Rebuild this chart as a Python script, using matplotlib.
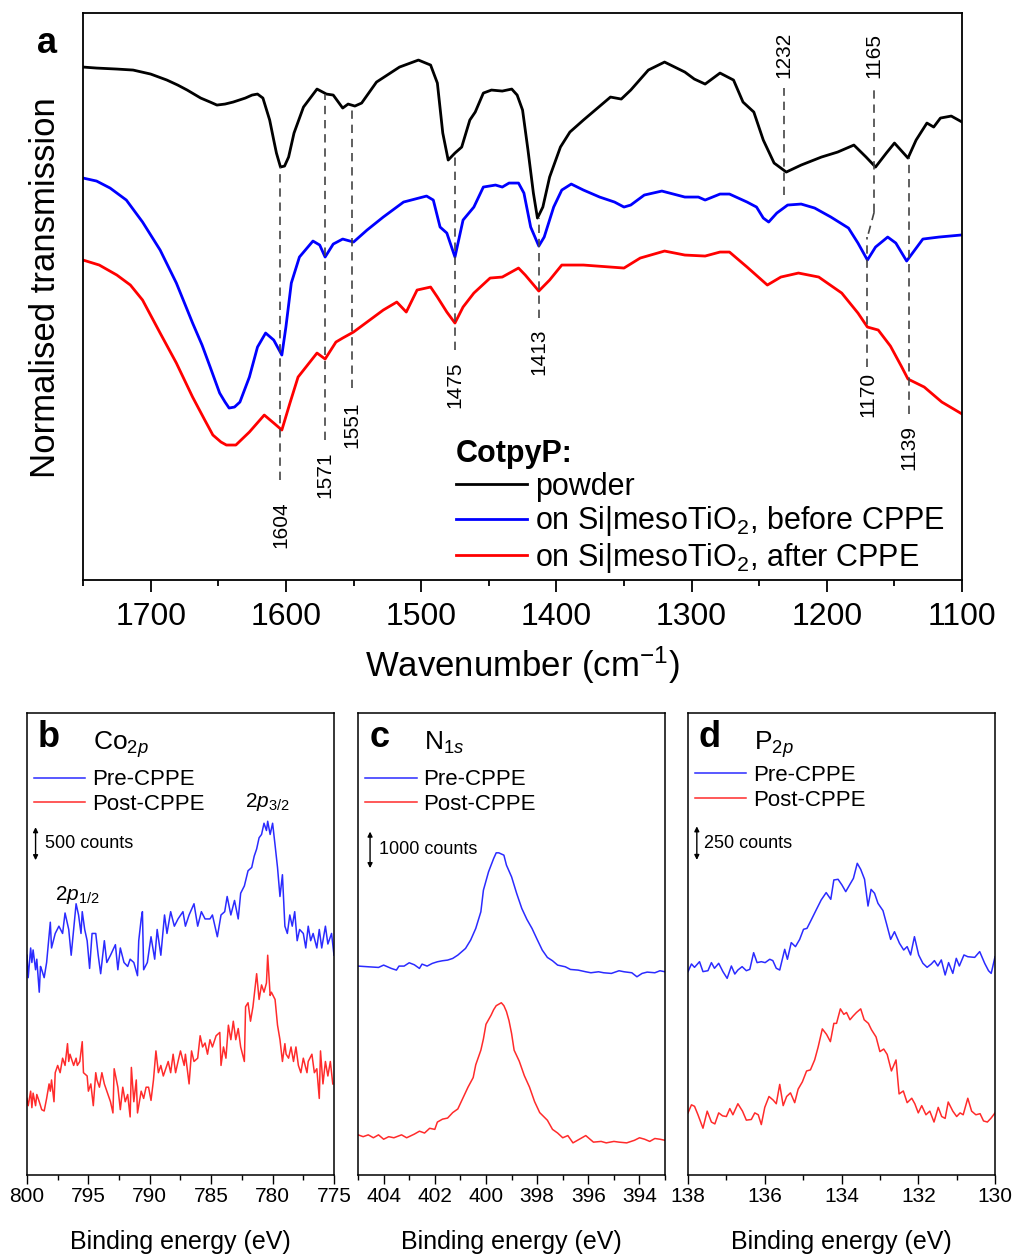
import matplotlib
matplotlib.use("Agg")
import matplotlib.pyplot as plt
from matplotlib.ticker import MultipleLocator

plt.rcParams['font.family'] = ['Liberation Sans', 'DejaVu Sans']
plt.rcParams['mathtext.fontset'] = 'custom'
plt.rcParams['mathtext.rm'] = 'Liberation Sans'
plt.rcParams['mathtext.it'] = 'Liberation Sans:italic'
plt.rcParams['mathtext.bf'] = 'Liberation Sans:bold'

# ---------------- (a) ATR-IR, normalised transmission (a.u.) ----------------
wn_powder = [1750, 1740, 1725, 1713, 1700, 1688, 1680, 1673, 1663, 1656, 1651, 1645, 1639, 1630,
             1625, 1621, 1617, 1612, 1609, 1607, 1604, 1601, 1598, 1594,
             1587, 1577, 1570, 1565, 1558, 1554, 1549, 1544, 1533, 1516, 1502, 1493, 1488, 1484,
             1480, 1475, 1470, 1464, 1460, 1454, 1448, 1440, 1433, 1429, 1425, 1421, 1417, 1414,
             1410, 1405, 1397, 1390, 1380, 1360, 1352, 1345, 1332, 1320, 1305, 1298, 1290, 1279,
             1269, 1262, 1254, 1247, 1239, 1230, 1219, 1204, 1192, 1180, 1171, 1164, 1156, 1150,
             1140, 1134, 1126, 1121, 1116, 1108, 1100]
t_powder = [5.13, 5.12, 5.11, 5.10, 5.06, 5.00, 4.95, 4.90, 4.82, 4.78, 4.75, 4.76, 4.78, 4.82,
            4.85, 4.86, 4.82, 4.60, 4.40, 4.27, 4.13, 4.14, 4.23, 4.47,
            4.73, 4.91, 4.86, 4.85, 4.72, 4.76, 4.74, 4.77, 4.98, 5.13, 5.20, 5.15, 4.97, 4.47,
            4.20, 4.27, 4.33, 4.60, 4.68, 4.87, 4.90, 4.89, 4.91, 4.85, 4.70, 4.30, 3.87, 3.62,
            3.73, 4.03, 4.33, 4.48, 4.60, 4.83, 4.81, 4.90, 5.10, 5.18, 5.08, 5.01, 4.96, 5.07,
            5.00, 4.78, 4.68, 4.40, 4.17, 4.08, 4.15, 4.23, 4.28, 4.35, 4.23, 4.13, 4.27, 4.37,
            4.22, 4.40, 4.57, 4.53, 4.62, 4.64, 4.58]

wn_before = [1750, 1740, 1730, 1718, 1706, 1693, 1681, 1669, 1662, 1656, 1649, 1645, 1642, 1638,
             1634, 1627, 1621,
             1615, 1609, 1603, 1600, 1596, 1590, 1580, 1575, 1571, 1565, 1558, 1550, 1540, 1528,
             1513, 1496, 1491, 1486, 1481, 1475, 1469, 1461, 1454, 1445, 1440, 1435, 1428, 1424,
             1419, 1413, 1409, 1402, 1396, 1389, 1380, 1368, 1357, 1350, 1345, 1335, 1322, 1305,
             1295, 1290, 1279, 1272, 1259, 1252, 1247, 1243, 1237, 1229, 1219, 1209, 1197, 1184,
             1177, 1170, 1164, 1155, 1149, 1141, 1129, 1117, 1101]
t_before = [4.02, 3.99, 3.92, 3.80, 3.58, 3.30, 2.97, 2.57, 2.35, 2.13, 1.87, 1.78, 1.72, 1.73,
            1.78, 2.03, 2.33,
            2.47, 2.40, 2.25, 2.53, 2.97, 3.23, 3.39, 3.35, 3.23, 3.36, 3.41, 3.38, 3.50, 3.63,
            3.78, 3.84, 3.80, 3.53, 3.47, 3.23, 3.60, 3.73, 3.93, 3.95, 3.93, 3.97, 3.97, 3.87,
            3.53, 3.34, 3.43, 3.73, 3.90, 3.96, 3.90, 3.83, 3.78, 3.73, 3.75, 3.85, 3.89, 3.83,
            3.83, 3.80, 3.86, 3.86, 3.78, 3.73, 3.62, 3.58, 3.67, 3.75, 3.76, 3.72, 3.63, 3.52,
            3.37, 3.20, 3.33, 3.43, 3.37, 3.19, 3.41, 3.43, 3.45]

wn_after = [1750, 1738, 1725, 1715, 1706, 1693, 1681, 1669, 1660, 1654, 1648, 1644, 1637, 1627,
            1616, 1609,
            1603, 1597, 1591, 1577, 1571, 1563, 1558, 1550, 1540, 1528, 1518, 1511, 1503, 1493,
            1488, 1481, 1475, 1469, 1461, 1449, 1440, 1428, 1423, 1413, 1405, 1396, 1380, 1350,
            1338, 1320, 1305, 1290, 1279, 1272, 1259, 1244, 1234, 1221, 1206, 1189, 1177, 1170,
            1162, 1153, 1145, 1140, 1128, 1115, 1100]
t_after = [3.20, 3.15, 3.05, 2.95, 2.80, 2.47, 2.17, 1.83, 1.60, 1.45, 1.38, 1.35, 1.35, 1.48,
           1.65, 1.57,
           1.50, 1.77, 2.03, 2.27, 2.21, 2.38, 2.42, 2.48, 2.58, 2.70, 2.78, 2.68, 2.90, 2.93,
           2.83, 2.68, 2.57, 2.73, 2.87, 3.02, 3.03, 3.12, 3.05, 2.89, 3.00, 3.15, 3.15, 3.12,
           3.22, 3.29, 3.25, 3.24, 3.28, 3.28, 3.13, 2.95, 3.03, 3.07, 3.03, 2.87, 2.67, 2.53,
           2.50, 2.34, 2.14, 2.01, 1.93, 1.78, 1.66]

# peak guide lines: position, top, bottom, label height
peak_wn = [1604, 1571, 1551, 1475, 1413, 1232, 1165, 1170, 1139]
peak_top = [4.13, 4.86, 4.74, 4.27, 3.62, 4.92, 4.92, 3.43, 4.22]
peak_bot = [1.00, 1.40, 1.92, 2.30, 2.62, 3.85, 3.68, 2.13, 1.66]
peak_lab = [0.55, 1.05, 1.55, 1.95, 2.28, 5.25, 5.25, 1.86, 1.33]

# ---------------- (b)-(d) XPS ----------------
co_be_pre = [800.0, 799.9, 799.7, 799.6, 799.5, 799.3, 799.2, 799.0, 798.9, 798.8, 798.6, 798.4,
             798.1, 798.0, 797.7, 797.4, 797.1, 796.9, 796.6, 796.4, 796.2, 796.0, 795.8, 795.6,
             795.5, 795.3, 795.1, 794.9, 794.7, 794.4, 794.2, 794.0, 793.7, 793.5, 793.2, 792.8,
             792.6, 792.4, 792.1, 791.8, 791.6, 791.3, 791.0, 790.9, 790.7, 790.6, 790.5, 790.2,
             789.9, 789.6, 789.4, 789.1, 788.8, 788.6, 788.3, 788.0, 787.7, 787.3, 787.1, 786.8,
             786.4, 786.1, 785.8, 785.5, 785.1, 784.9, 784.5, 784.2, 783.9, 783.7, 783.4, 783.1,
             782.8, 782.6, 782.3, 782.0, 781.7, 781.5, 781.3, 781.1, 780.9, 780.7, 780.5, 780.4,
             780.2, 780.0, 779.8, 779.6, 779.4, 779.2, 779.0, 778.8, 778.6, 778.4, 778.2, 778.0,
             777.8, 777.5, 777.3, 777.1, 776.9, 776.7, 776.4, 776.2, 776.0, 775.7, 775.5, 775.2,
             775.0]
co_cts_pre = [3330, 2990, 3440, 3220, 3410, 3110, 3270, 2770, 3160, 3110, 2990, 3220,
              3830, 3440, 3660, 3770, 3660, 3970, 3720, 3330, 3720, 4110, 3940, 3660,
              3990, 3720, 3550, 3130, 3660, 3660, 3330, 3050, 3550, 3220, 3330, 3490,
              3110, 3440, 3220, 3160, 3270, 3220, 3020, 3550, 3880, 3990, 3110, 3220,
              3610, 3270, 3720, 3330, 3940, 3660, 3990, 3770, 3880, 3990, 3770, 3940,
              4110, 3770, 3990, 3880, 3880, 3940, 3610, 3940, 3990, 4220, 3940, 4160,
              3880, 4270, 4380, 4610, 4660, 4830, 4940, 5110, 5160, 5330, 5220, 5360,
              5160, 5330, 5000, 4660, 4220, 4550, 3770, 3660, 3940, 3770, 3990, 3550,
              3720, 3660, 3440, 3770, 3550, 3660, 3440, 3720, 3440, 3770, 3500, 3660,
              3330]
co_be_post = [800.0, 799.9, 799.7, 799.6, 799.5, 799.3, 799.2, 799.0, 798.8, 798.6, 798.4, 798.2,
              798.1, 798.0, 797.8, 797.7, 797.5, 797.3, 797.1, 796.9, 796.7, 796.6, 796.5, 796.2,
              796.0, 795.9, 795.7, 795.5, 795.4, 795.1, 795.0, 794.8, 794.6, 794.4, 794.3, 794.1,
              793.9, 793.7, 793.5, 793.2, 793.0, 792.9, 792.6, 792.4, 792.2, 792.0, 791.8, 791.6,
              791.5, 791.3, 791.1, 791.0, 790.7, 790.5, 790.3, 790.1, 789.9, 789.7, 789.5, 789.3,
              789.1, 788.9, 788.7, 788.5, 788.3, 788.1, 787.9, 787.7, 787.5, 787.2, 787.1, 786.8,
              786.6, 786.4, 786.1, 785.9, 785.7, 785.5, 785.3, 785.1, 784.9, 784.6, 784.3, 784.2,
              784.0, 783.8, 783.6, 783.4, 783.2, 783.0, 782.8, 782.6, 782.3, 782.2, 782.0, 781.8,
              781.6, 781.3, 781.1, 780.9, 780.7, 780.5, 780.4, 780.2, 780.1, 779.8, 779.6, 779.4,
              779.2, 779.0, 778.9, 778.7, 778.5, 778.3, 778.1, 777.9, 777.7, 777.5, 777.2, 777.1,
              776.8, 776.6, 776.4, 776.2, 776.1, 775.9, 775.7, 775.5, 775.3, 775.1]
co_cts_post = [1160, 1050, 1270, 1020, 1240, 1050, 1220, 1110, 990, 970, 1160, 1380,
               1270, 1440, 1110, 1550, 1660, 1550, 1770, 1660, 1990, 1720, 1830, 1660,
               1770, 1660, 1720, 2020, 1550, 1500, 1270, 1380, 1050, 1550, 1440, 1330,
               1550, 1380, 1270, 1110, 940, 1610, 1330, 990, 1330, 1110, 1220, 880,
               1630, 1110, 1440, 940, 1270, 1160, 1330, 1330, 1130, 1440, 1880, 1550,
               1660, 1500, 1610, 1720, 1550, 1830, 1550, 1720, 1880, 1660, 1830, 1380,
               1880, 1720, 1770, 2110, 1940, 2000, 1830, 2050, 1940, 2110, 2160, 1660,
               1940, 1770, 2270, 2050, 2330, 2050, 2220, 1940, 1720, 2550, 2610, 2330,
               2550, 3050, 2660, 2880, 2770, 2910, 3330, 2720, 2770, 2660, 2270, 2050,
               1720, 1990, 1830, 1770, 1940, 1720, 1940, 1660, 1550, 1770, 1550, 1720,
               1830, 1550, 1610, 1160, 1880, 1380, 1720, 1500, 1720, 1380]

n_be_pre = [405.0, 404.6, 404.2, 404.0, 403.7, 403.5, 403.4, 403.2, 403.0, 402.8, 402.6, 402.5,
            402.3, 402.1, 401.9, 401.7, 401.5, 401.3, 401.1, 400.8, 400.6, 400.4, 400.2, 400.1,
            399.9, 399.7, 399.6, 399.5, 399.3, 399.2, 399.0, 398.8, 398.6, 398.4, 398.2, 398.0,
            397.8, 397.6, 397.4, 397.2, 396.9, 396.7, 396.4, 396.1, 395.9, 395.6, 395.4, 395.1,
            394.8, 394.6, 394.3, 394.1, 393.9, 393.7, 393.4, 393.2, 393.0]
n_cts_pre = [5725, 5706, 5688, 5752, 5661, 5615, 5725, 5725, 5816, 5761, 5661, 5779,
             5725, 5798, 5843, 5871, 5889, 5935, 6026, 6208, 6437, 6756, 7213, 7806,
             8308, 8674, 8829, 8829, 8765, 8491, 8171, 7715, 7304, 7003, 6756, 6455,
             6163, 5962, 5871, 5752, 5706, 5633, 5615, 5569, 5542, 5569, 5542, 5524,
             5597, 5569, 5542, 5432, 5524, 5560, 5542, 5597, 5569]
n_be_post = [405.0, 404.8, 404.6, 404.4, 404.2, 404.0, 403.8, 403.6, 403.3, 403.1, 402.8, 402.6,
             402.4, 402.2, 402.0, 401.9, 401.7, 401.5, 401.3, 401.1, 400.9, 400.7, 400.5, 400.4,
             400.2, 400.1, 400.0, 399.8, 399.7, 399.6, 399.4, 399.3, 399.2, 399.1, 399.0, 398.9,
             398.7, 398.5, 398.3, 398.1, 397.9, 397.6, 397.4, 397.2, 397.0, 396.8, 396.6, 396.3,
             396.1, 395.8, 395.5, 395.3, 395.0, 394.8, 394.5, 394.2, 394.0, 393.8, 393.6, 393.4,
             393.2, 393.0]
n_cts_post = [1100, 1050, 1100, 1020, 1100, 980, 1050, 1020, 1100, 1020, 1120, 1200,
              1150, 1280, 1250, 1450, 1530, 1560, 1710, 1810, 2110, 2410, 2670, 3020,
              3420, 3730, 4130, 4380, 4530, 4640, 4720, 4640, 4480, 4230, 3880, 3420,
              3120, 2720, 2410, 2010, 1710, 1500, 1250, 1150, 1020, 1080, 880, 1000,
              1080, 900, 920, 880, 920, 900, 880, 950, 1020, 980, 920, 1000,
              980, 950]

p_be_pre = [138.0, 137.91, 137.83, 137.70, 137.61, 137.48, 137.39, 137.31, 137.20, 137.09,
            136.98, 136.87, 136.78, 136.70, 136.59, 136.48, 136.39, 136.29, 136.20, 136.09,
            135.99, 135.87, 135.79, 135.70, 135.61, 135.48, 135.41, 135.31, 135.20, 135.09,
            134.99, 134.90, 134.79, 134.66, 134.53, 134.40, 134.28, 134.20, 134.09, 133.99,
            133.89, 133.79, 133.69, 133.59, 133.50, 133.40, 133.31, 133.23, 133.14, 133.05,
            132.92, 132.83, 132.72, 132.62, 132.49, 132.38, 132.29, 132.20, 132.10, 131.99,
            131.88, 131.77, 131.66, 131.58, 131.49, 131.40, 131.30, 131.21, 131.10, 131.01,
            130.93, 130.81, 130.71, 130.53, 130.40, 130.27, 130.17, 130.10, 130.0]
p_cts_pre = [1513, 1570, 1545, 1587, 1513, 1520, 1580, 1538, 1575, 1513,
             1463, 1555, 1495, 1525, 1550, 1520, 1530, 1654, 1580, 1587,
             1580, 1605, 1595, 1538, 1525, 1679, 1605, 1729, 1699, 1753,
             1828, 1835, 1897, 1972, 2046, 2101, 2051, 2195, 2200, 2158,
             2108, 2158, 2207, 2319, 2274, 2200, 2001, 2125, 2096, 2021,
             1967, 1872, 1753, 1810, 1724, 1674, 1699, 1637, 1773, 1637,
             1575, 1545, 1570, 1595, 1555, 1600, 1488, 1580, 1500, 1612,
             1555, 1637, 1624, 1619, 1662, 1575, 1520, 1500, 1624]
p_be_post = [138.0, 137.91, 137.83, 137.74, 137.61, 137.50, 137.39, 137.30, 137.20, 137.10,
             137.00, 136.91, 136.83, 136.70, 136.58, 136.48, 136.35, 136.26, 136.17, 136.09,
             136.00, 135.89, 135.78, 135.70, 135.61, 135.52, 135.43, 135.33, 135.22, 135.13,
             135.02, 134.91, 134.81, 134.70, 134.61, 134.50, 134.39, 134.29, 134.20, 134.13,
             134.03, 133.94, 133.87, 133.78, 133.70, 133.61, 133.50, 133.41, 133.30, 133.22,
             133.10, 133.00, 132.90, 132.81, 132.70, 132.58, 132.50, 132.39, 132.29, 132.17,
             132.09, 132.00, 131.91, 131.80, 131.70, 131.59, 131.48, 131.39, 131.30, 131.22,
             131.10, 131.00, 130.91, 130.83, 130.71, 130.61, 130.50, 130.39, 130.30, 130.20,
             130.11, 130.00]
p_cts_post = [462, 522, 511, 448, 348, 475, 394, 380, 462, 440,
              435, 494, 448, 530, 475, 408, 413, 462, 448, 375,
              503, 584, 557, 530, 674, 516, 584, 611, 538, 639,
              693, 774, 782, 856, 951, 1087, 1046, 992, 1128, 1128,
              1236, 1195, 1209, 1155, 1182, 1209, 1236, 1155, 1128, 1081,
              1027, 918, 937, 897, 774, 856, 603, 625, 538, 571,
              530, 462, 516, 448, 475, 394, 503, 435, 421, 543,
              475, 435, 462, 448, 571, 475, 448, 456, 402, 394,
              421, 462]

fig = plt.figure(figsize=(10.14, 12.56), dpi=100)

# ---------------- panel a ----------------
ax = fig.add_axes([0.0819, 0.5382, 0.8669, 0.4514])
kw = dict(lw=2, solid_joinstyle='round')
ax.plot(wn_powder, t_powder, color='black', label='powder', **kw)
ax.plot(wn_before, t_before, color='#0000ff', label='on Si|mesoTiO$_2$, before CPPE', **kw)
ax.plot(wn_after, t_after, color='#ff0000', label='on Si|mesoTiO$_2$, after CPPE', **kw)

dash = (0, (5, 3.5))
ax.vlines(peak_wn, peak_bot, peak_top, colors='#444444', linestyles=[dash], lw=1.2)
ax.plot([1165, 1170], [3.68, 3.43], color='#444444', ls=dash, lw=1.2)
for w, yl in zip(peak_wn, peak_lab):
    ax.text(w, yl, str(w), rotation=90, ha='center', va='center', fontsize=15)

ax.set_xlim(1750, 1100)
ax.set_ylim(0, 5.67)
ax.set_yticks([])
ax.xaxis.set_major_locator(MultipleLocator(100))
ax.xaxis.set_minor_locator(MultipleLocator(50))
ax.tick_params(axis='x', which='major', length=8.5, width=1.3, labelsize=23, pad=7)
ax.tick_params(axis='x', which='minor', length=4, width=1.3)
for s in ax.spines.values():
    s.set_linewidth(1.3)
ax.set_xlabel('Wavenumber (cm$^{-1}$)', fontsize=25, va='center')
ax.xaxis.set_label_coords(0.4994, -0.150)
ax.set_ylabel('Normalised transmission', fontsize=25, va='center')
ax.yaxis.set_label_coords(-0.043, 0.515)
ax.text(-0.041, 0.947, 'a', transform=ax.transAxes, fontsize=26, fontweight='bold',
        ha='center', va='center')
leg = ax.legend(loc='upper left', bbox_to_anchor=(0.424, 0.249), frameon=False, fontsize=22,
                title='CotpyP:', title_fontproperties={'weight': 'bold', 'size': 22},
                alignment='left', handlelength=2.33, handletextpad=0.26, labelspacing=0.09,
                borderpad=0, borderaxespad=0)


# ---------------- panels b-d ----------------
def xps_panel(left, letter, element, be_pre, cts_pre, be_post, cts_post, xlim, major, minor,
              ymax, bar, bar_x, bar_lo, txt_x, leg_top):
    ax = fig.add_axes([left, 0.0645, 0.3028, 0.3678])
    ax.plot(be_pre, cts_pre, color='#2b2bff', lw=1.1, label='Pre-CPPE')
    ax.plot(be_post, cts_post, color='#ff2b2b', lw=1.1, label='Post-CPPE')
    ax.set_xlim(*xlim)
    ax.set_ylim(0, ymax)
    ax.set_yticks([])
    ax.xaxis.set_major_locator(MultipleLocator(major))
    ax.xaxis.set_minor_locator(MultipleLocator(minor))
    ax.tick_params(axis='x', which='major', length=6.5, width=1, labelsize=15, pad=2)
    ax.tick_params(axis='x', which='minor', length=3.3, width=1)
    for s in ax.spines.values():
        s.set_linewidth(1.1)
    ax.set_xlabel('Binding energy (eV)', fontsize=18, va='center')
    ax.xaxis.set_label_coords(0.5, -0.145)
    ax.text(0.07, 0.948, letter, transform=ax.transAxes, fontsize=26, fontweight='bold',
            ha='center', va='center')
    ax.text(0.214, 0.92, element, transform=ax.transAxes, fontsize=19, ha='left', va='baseline')
    ax.legend(loc='upper left', bbox_to_anchor=(0.024, leg_top), frameon=False, fontsize=16,
              handlelength=2.3, handletextpad=0.3, labelspacing=0.15, borderpad=0,
              borderaxespad=0)
    ax.annotate('', xy=(bar_x, bar_lo + bar), xytext=(bar_x, bar_lo),
                arrowprops=dict(arrowstyle='<|-|>', color='black', lw=1, shrinkA=0, shrinkB=0,
                                mutation_scale=7))
    ax.text(txt_x, bar_lo + bar / 2, f'{bar} counts', fontsize=13, ha='left', va='center')
    return ax


axb = xps_panel(0.0266, 'b', 'Co$_{2\\mathit{p}}$', co_be_pre, co_cts_pre, co_be_post, co_cts_post,
                (800, 775), 5, 2.5, 7000, 500, 799.3, 4770, 798.5, 0.878)
axb.text(780.4, 5650, '2$\\mathit{p}_{3/2}$', fontsize=15, ha='center', va='center')
axb.text(795.9, 4250, '2$\\mathit{p}_{1/2}$', fontsize=15, ha='center', va='center')

xps_panel(0.3531, 'c', 'N$_{1\\mathit{s}}$', n_be_pre, n_cts_pre, n_be_post, n_cts_post,
          (405, 393), 2, 1, 12660, 1000, 404.53, 8410, 404.18, 0.878)

xps_panel(0.6785, 'd', 'P$_{2\\mathit{p}}$', p_be_pre, p_cts_pre, p_be_post, p_cts_post,
          (138, 130), 2, 1, 3437, 250, 137.77, 2344, 137.58, 0.887)

fig.savefig('out.png', dpi=100)
